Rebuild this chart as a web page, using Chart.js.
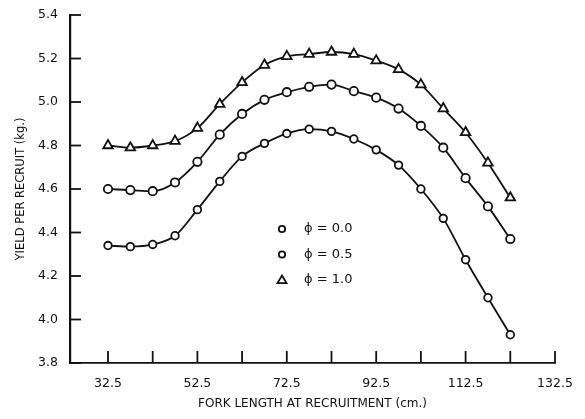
<!DOCTYPE html>
<html>
<head>
<meta charset="utf-8">
<script src="https://cdn.jsdelivr.net/npm/chart.js@4.4.1/dist/chart.umd.min.js"></script>
<style>
  html, body { margin: 0; padding: 0; background: #fff; }
  #wrap { width: 585px; height: 419px; position: relative; }
</style>
</head>
<body>
<div id="wrap"><canvas id="c" width="585" height="419"></canvas></div>
<script>
// ---- data ----
const forkLength = [32.5, 37.5, 42.5, 47.5, 52.5, 57.5, 62.5, 67.5, 72.5, 77.5, 82.5, 87.5, 92.5, 97.5, 102.5, 107.5, 112.5, 117.5, 122.5];
const yieldPhi00 = [4.34, 4.335, 4.345, 4.385, 4.505, 4.635, 4.75, 4.81, 4.855, 4.875, 4.865, 4.83, 4.78, 4.71, 4.60, 4.465, 4.275, 4.10, 3.93];
const yieldPhi05 = [4.60, 4.595, 4.59, 4.63, 4.725, 4.85, 4.945, 5.01, 5.045, 5.07, 5.08, 5.05, 5.02, 4.97, 4.89, 4.79, 4.65, 4.52, 4.37];
const yieldPhi10 = [4.80, 4.79, 4.80, 4.82, 4.88, 4.99, 5.09, 5.17, 5.21, 5.22, 5.23, 5.22, 5.19, 5.15, 5.08, 4.97, 4.86, 4.72, 4.56];
const seriesLabels = ['\u03D5 = 0.0', '\u03D5 = 0.5', '\u03D5 = 1.0'];
const xTickValues = [32.5, 42.5, 52.5, 62.5, 72.5, 82.5, 92.5, 102.5, 112.5, 122.5, 132.5];
const xTickLabels = ['32.5', '', '52.5', '', '72.5', '', '92.5', '', '112.5', '', '132.5'];
const yTickValues = [3.8, 4.0, 4.2, 4.4, 4.6, 4.8, 5.0, 5.2, 5.4];

const FONT = '"DejaVu Sans", "Liberation Sans", sans-serif';

function toXY(ys) { return forkLength.map((x, i) => ({ x: x, y: ys[i] })); }

const common = {
  borderColor: '#111',
  borderWidth: 1.8,
  pointBackgroundColor: '#fff',
  pointBorderColor: '#111',
  pointBorderWidth: 1.8,
  tension: 0.4,
  cubicInterpolationMode: 'monotone',
  fill: false
};

const innerTicks = {
  id: 'innerTicks',
  afterDraw(chart) {
    const ctx = chart.ctx;
    const xs = chart.scales.x, ys = chart.scales.y;
    ctx.save();
    ctx.strokeStyle = '#111';
    ctx.lineWidth = 1.8;
    xs.ticks.forEach(t => {
      const px = xs.getPixelForValue(t.value);
      ctx.beginPath();
      ctx.moveTo(px, ys.bottom);
      ctx.lineTo(px, ys.bottom - 12);
      ctx.stroke();
    });
    ys.ticks.forEach(t => {
      const py = ys.getPixelForValue(t.value);
      ctx.beginPath();
      ctx.moveTo(xs.left, py);
      ctx.lineTo(xs.left + 11, py);
      ctx.stroke();
    });
    ctx.restore();
  }
};

const innerLegend = {
  id: 'innerLegend',
  afterDraw(chart, args, opts) {
    const ctx = chart.ctx;
    const area = chart.chartArea;
    ctx.save();
    ctx.strokeStyle = '#111';
    ctx.lineWidth = 1.8;
    ctx.font = '13px ' + FONT;
    ctx.textBaseline = 'middle';
    chart.data.datasets.forEach((ds, i) => {
      const mx = area.left + opts.x;
      const my = area.top + opts.y + i * opts.gap;
      ctx.beginPath();
      if (ds.pointStyle === 'triangle') {
        const r = 4.5;
        ctx.moveTo(mx, my - r);
        ctx.lineTo(mx + r, my + r * 0.7);
        ctx.lineTo(mx - r, my + r * 0.7);
        ctx.closePath();
      } else {
        ctx.arc(mx, my, 3.2, 0, Math.PI * 2);
      }
      ctx.fillStyle = '#fff';
      ctx.fill();
      ctx.stroke();
      ctx.fillStyle = '#111';
      ctx.fillText(ds.label, mx + 22, my);
    });
    ctx.restore();
  }
};

new Chart(document.getElementById('c'), {
  type: 'line',
  data: {
    datasets: [
      Object.assign({ label: seriesLabels[0], data: toXY(yieldPhi00), pointStyle: 'circle', pointRadius: 3.8 }, common),
      Object.assign({ label: seriesLabels[1], data: toXY(yieldPhi05), pointStyle: 'circle', pointRadius: 4.2 }, common),
      Object.assign({ label: seriesLabels[2], data: toXY(yieldPhi10), pointStyle: 'triangle', pointRadius: 5.5 }, common)
    ]
  },
  options: {
    responsive: false,
    animation: false,
    layout: { padding: { top: 15, right: 30, left: 14, bottom: 8 } },
    plugins: {
      legend: { display: false },
      tooltip: { enabled: false },
      innerLegend: { x: 212, y: 214, gap: 25.5 }
    },
    scales: {
      x: {
        type: 'linear',
        min: 24,
        max: 132.5,
        afterBuildTicks(scale) { scale.ticks = xTickValues.map(v => ({ value: v })); },
        afterFit(scale) { scale.height = 48; scale.paddingLeft = 0; scale.paddingRight = 0; },
        grid: { display: false, drawTicks: false },
        border: { display: true, color: '#111', width: 1.8 },
        ticks: {
          autoSkip: false,
          maxRotation: 0,
          padding: 13,
          color: '#111',
          font: { family: FONT, size: 12.5 },
          callback(v) { const i = xTickValues.indexOf(v); return i >= 0 ? xTickLabels[i] : ''; }
        },
        title: {
          display: true,
          text: 'FORK LENGTH AT RECRUITMENT (cm.)',
          color: '#111',
          font: { family: FONT, size: 12 },
          padding: { top: 4, bottom: 0 }
        }
      },
      y: {
        min: 3.8,
        max: 5.4,
        afterBuildTicks(scale) { scale.ticks = yTickValues.map(v => ({ value: v })); },
        afterFit(scale) { scale.width = 56; scale.paddingTop = 0; scale.paddingBottom = 0; },
        grid: { display: false, drawTicks: false },
        border: { display: true, color: '#111', width: 2.2 },
        ticks: {
          padding: 12,
          color: '#111',
          font: { family: FONT, size: 12.5 },
          callback(v) { return Number(v).toFixed(1); }
        },
        title: {
          display: true,
          text: 'YIELD PER RECRUIT (kg.)',
          color: '#111',
          font: { family: FONT, size: 11.5 },
          padding: { top: 0, bottom: 4 }
        }
      }
    }
  },
  plugins: [innerTicks, innerLegend]
});
</script>
</body>
</html>
